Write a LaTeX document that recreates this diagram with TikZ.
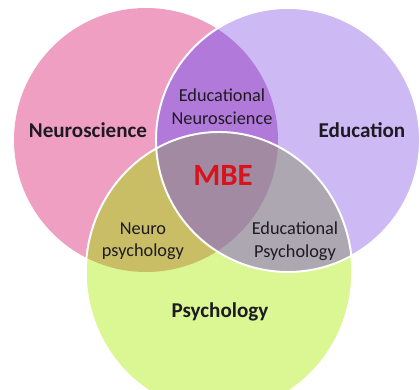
\documentclass[tikz,border=0pt]{standalone}
\usepackage{fontspec}
\setmainfont{Carlito}

\definecolor{neurofill}{HTML}{EFA0C2}
\definecolor{edufill}{HTML}{CDB9F3}
\definecolor{psyfill}{HTML}{DAF794}
\definecolor{neuroedufill}{HTML}{B17ADA}
\definecolor{neuropsyfill}{HTML}{C9BE66}
\definecolor{edupsyfill}{HTML}{ACA7B1}
\definecolor{mbefill}{HTML}{A28AA2}
\definecolor{mbered}{HTML}{D7141C}
\definecolor{labeltext}{HTML}{1E1A22}

\tikzset{
  setlabel/.style={font=\fontsize{15}{18}\selectfont\bfseries, text=labeltext},
  overlaplabel/.style={font=\fontsize{13}{16}\selectfont, text=labeltext, align=center},
  rim/.style={draw=white, line width=1.4pt}
}

\begin{document}
\begin{tikzpicture}
  \useasboundingbox (0,0) rectangle (10.5,9.75);
  \clip (0,0) rectangle (10.5,9.75);
  \coordinate (neuro) at (3.65,6.25);
  \coordinate (edu) at (7.2,6.25);
  \coordinate (psy) at (5.475,2.95);

  % the three sets
  \fill[neurofill] (neuro) circle (3.3);
  \fill[edufill] (edu) circle (3.3);
  \fill[psyfill] (psy) ellipse [x radius=3.33, y radius=3.5];

  % pairwise overlaps
  \begin{scope}
    \clip (neuro) circle (3.3);
    \fill[neuroedufill] (edu) circle (3.3);
    \fill[neuropsyfill] (psy) ellipse [x radius=3.33, y radius=3.5];
  \end{scope}
  \begin{scope}
    \clip (edu) circle (3.3);
    \fill[edupsyfill] (psy) ellipse [x radius=3.33, y radius=3.5];
  \end{scope}

  % all three
  \begin{scope}
    \clip (neuro) circle (3.3);
    \clip (edu) circle (3.3);
    \fill[mbefill] (psy) ellipse [x radius=3.33, y radius=3.5];
  \end{scope}

  % white rims
  \draw[rim] (edu) circle (3.3);
  \draw[rim] (psy) ellipse [x radius=3.33, y radius=3.5];

  % labels
  \node[setlabel] (neurolabel) at (2.2,6.5) {Neuroscience};
  \node[setlabel] (edulabel) at (9.05,6.5) {Education};
  \node[setlabel] (psylabel) at (5.5,1.95) {Psychology};
  \node[font=\fontsize{22}{26}\selectfont\bfseries, text=mbered] (mbe) at (5.575,5.37) {MBE};
  \node[overlaplabel] (eduneuro) at (5.55,7.08) {Educational\\Neuroscience};
  \node[overlaplabel] (neuropsy) at (3.575,3.72) {Neuro\\psychology};
  \node[overlaplabel] (edupsy) at (7.375,3.72) {Educational\\Psychology};
\end{tikzpicture}
\end{document}
